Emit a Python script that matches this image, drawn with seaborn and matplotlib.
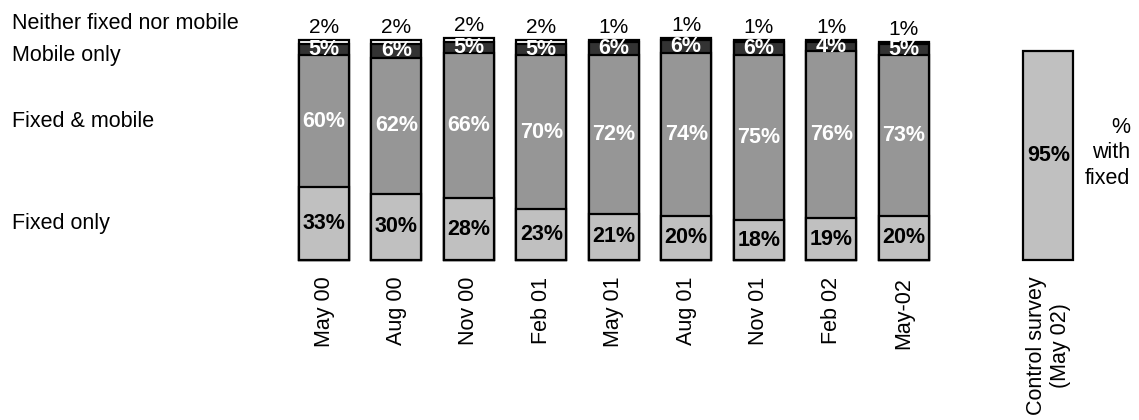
import numpy as np
import pandas as pd
import matplotlib
matplotlib.use("Agg")
import matplotlib.pyplot as plt
import matplotlib.transforms as mtransforms
import seaborn as sns

# Survey waves and share of households by type of telephone access (%)
periods = ["May 00", "Aug 00", "Nov 00", "Feb 01", "May 01", "Aug 01", "Nov 01", "Feb 02", "May-02"]
fixed_only = [33, 30, 28, 23, 21, 20, 18, 19, 20]
fixed_and_mobile = [60, 62, 66, 70, 72, 74, 75, 76, 73]
mobile_only = [5, 6, 5, 5, 6, 6, 6, 4, 5]
neither = [2, 2, 2, 2, 1, 1, 1, 1, 1]

control_label = "Control survey\n(May 02)"
control_with_fixed = [95]

segment_names = ["Fixed only", "Fixed & mobile", "Mobile only", "Neither fixed nor mobile"]

sns.set_style("white")
plt.rcParams["font.family"] = ["Liberation Sans", "DejaVu Sans"]
plt.rcParams["text.color"] = "black"
plt.rcParams["xtick.color"] = "black"

FS = 15.5
fig = plt.figure(figsize=(11.39, 4.2), dpi=100)
ax = fig.add_axes([0.2527, 0.381, 0.6996, 0.55])

order = periods + [" ", control_label]

df = pd.DataFrame({
    "period": periods,
    "fixed_only": fixed_only,
    "fixed_and_mobile": fixed_and_mobile,
    "mobile_only": mobile_only,
    "neither": neither,
})
df["c1"] = df["fixed_only"]
df["c2"] = df["c1"] + df["fixed_and_mobile"]
df["c3"] = df["c2"] + df["mobile_only"]
df["c4"] = df["c3"] + df["neither"]

bar_kw = dict(order=order, width=0.69, edgecolor="black", linewidth=1.6,
              saturation=1, errorbar=None, ax=ax)

# stacked bars drawn from the tallest cumulative total down
for col, colour in [("c4", "#ffffff"), ("c3", "#333333"), ("c2", "#969696"), ("c1", "#c0c0c0")]:
    sns.barplot(data=df, x="period", y=col, color=colour, **bar_kw)

ctrl = pd.DataFrame({"period": [control_label], "value": control_with_fixed})
sns.barplot(data=ctrl, x="period", y="value", color="#c0c0c0", **bar_kw)

for p in ax.patches:
    p.set_clip_on(False)

# value labels
for i, row in df.iterrows():
    ax.text(i, row["c1"] / 2, f"{row['fixed_only']}%", ha="center", va="center",
            fontsize=FS, fontweight="bold", color="black")
    ax.text(i, (row["c1"] + row["c2"]) / 2, f"{row['fixed_and_mobile']}%", ha="center",
            va="center", fontsize=FS, fontweight="bold", color="white")
    ax.text(i, (row["c2"] + row["c3"]) / 2, f"{row['mobile_only']}%", ha="center",
            va="center", fontsize=FS, fontweight="bold", color="white")
    ax.text(i, row["c4"] + 5.7, f"{row['neither']}%", ha="center", va="center",
            fontsize=FS - 0.5, color="black", clip_on=False)

ax.text(len(order) - 1, control_with_fixed[0] / 2, f"{control_with_fixed[0]}%",
        ha="center", va="center", fontsize=FS, fontweight="bold", color="black")

# segment names on the left, aligned with the first bar's segments
trans = mtransforms.blended_transform_factory(fig.transFigure, ax.transData)
label_y = [df["c1"][0] / 2, (df["c1"][0] + df["c2"][0]) / 2, 93.0, 107.5]
for name, y in zip(segment_names, label_y):
    ax.text(12 / 1139, y, name, transform=trans, ha="left", va="center",
            fontsize=FS, clip_on=False)

# annotation next to the control bar
fig.text(1130 / 1139, 1 - 153 / 420, "%\nwith\nfixed", ha="right", va="center",
         fontsize=FS, multialignment="right", linespacing=1.3)

ax.set_xlim(-0.5, len(order) - 0.5)
ax.set_ylim(0, 105)
ax.set_xlabel("")
ax.set_ylabel("")
ax.set_yticks([])
ax.set_xticks(range(len(order)))
ax.set_xticklabels(order, rotation=90, fontsize=FS, color="black")
ax.tick_params(axis="x", length=0, pad=12)
for s in ax.spines.values():
    s.set_visible(False)

fig.savefig("out.png", dpi=100)
